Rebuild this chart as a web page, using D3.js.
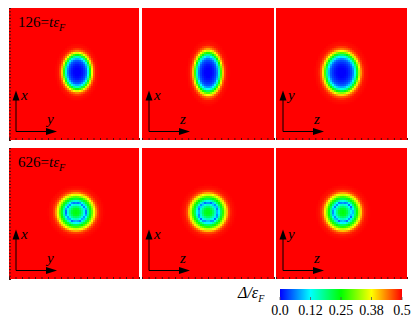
<!DOCTYPE html>
<html lang="en">
<head>
<meta charset="UTF-8">
<title>Gap snapshots</title>
<script src="https://cdn.jsdelivr.net/npm/d3@7"></script>
<style>
    body { margin: 0; background: white; }
    text { font-family: "Liberation Serif", "DejaVu Serif", serif; }
</style>
</head>
<body>
<div id="container"></div>
<script>
    // radial profiles of the gap, r = 1 at the outer yellow edge of the blob
    const radiusEarly = [0, 0.2, 0.35, 0.5, 0.6, 0.7, 0.8, 0.9, 1.0, 1.1, 1.25, 1.5, 3];
    const deltaEarly  = [0.0, 0.0, 0.01, 0.03, 0.05, 0.10, 0.18, 0.28, 0.38, 0.45, 0.49, 0.5, 0.5];
    const radiusLate  = [0, 0.2, 0.35, 0.45, 0.52, 0.58, 0.68, 0.8, 0.9, 1.0, 1.1, 1.25, 1.5, 3];
    const deltaLate   = [0.25, 0.23, 0.17, 0.12, 0.05, 0.12, 0.2, 0.27, 0.34, 0.40, 0.46, 0.49, 0.5, 0.5];

    // blob centre and half axes per panel (panel units -1..1)
    const planeLabels = [["y", "x"], ["z", "x"], ["z", "y"]];
    const timeLabels  = ["126", "626"];
    const centerX = [[0.05, 0.0, 0.0], [0.03, 0.0, 0.02]];
    const centerY = [[0.03, 0.02, 0.02], [0.02, 0.02, 0.02]];
    const radiusX = [[0.23, 0.22, 0.28], [0.295, 0.285, 0.28]];
    const radiusY = [[0.295, 0.34, 0.33], [0.28, 0.285, 0.285]];

    const cbTicks  = [0, 0.125, 0.25, 0.375, 0.5];
    const cbLabels = ["0.0", "0.12", "0.25", "0.38", "0.5"];

    const W = 415, H = 321;
    const colX = [[9, 139], [142, 274], [276, 407]];
    const rowY = [[8, 140], [148, 279]];
    const cell = 2;

    const color = d3.scaleLinear()
        .domain([0, 0.125, 0.25, 0.375, 0.5])
        .range(["#0000ff", "#00ffff", "#00ff00", "#ffff00", "#ff0000"])
        .clamp(true);

    const profiles = [
        d3.scaleLinear().domain(radiusEarly).range(deltaEarly).clamp(true),
        d3.scaleLinear().domain(radiusLate).range(deltaLate).clamp(true)
    ];

    const svg = d3.select("#container").append("svg")
        .attr("width", W)
        .attr("height", H);

    rowY.forEach((ry, row) => {
        colX.forEach((cx, col) => {
            const w = cx[1] - cx[0], h = ry[1] - ry[0];
            const x = d3.scaleLinear().domain([-1, 1]).range([0, w]);
            const y = d3.scaleLinear().domain([-1, 1]).range([h, 0]);
            const g = svg.append("g").attr("transform", `translate(${cx[0]},${ry[0]})`);

            g.append("rect").attr("width", w).attr("height", h).attr("fill", "#ff0000");

            const nx = Math.ceil(w / cell), ny = Math.ceil(h / cell);
            const cells = [];
            for (let i = 0; i < nx; i++) {
                for (let j = 0; j < ny; j++) {
                    const u = x.invert((i + 0.5) * cell), v = y.invert((j + 0.5) * cell);
                    const s = Math.hypot((u - centerX[row][col]) / radiusX[row][col],
                                         (v - centerY[row][col]) / radiusY[row][col]);
                    const val = profiles[row](s);
                    if (val < 0.499) cells.push({i, j, val});
                }
            }
            g.selectAll("rect.c")
                .data(cells)
                .enter().append("rect")
                .attr("class", "c")
                .attr("x", d => d.i * cell)
                .attr("y", d => d.j * cell)
                .attr("width", cell + 0.3)
                .attr("height", cell + 0.3)
                .attr("fill", d => color(d.val));

            // little ticks along the frame
            const bottom = d3.axisBottom(x).ticks(24).tickSize(-2).tickFormat("");
            g.append("g").attr("transform", `translate(0,${h})`).call(bottom)
                .call(a => a.select(".domain").remove())
                .selectAll("line").attr("stroke", "#401010");
            if (col === 0) {
                const left = d3.axisLeft(y).ticks(30).tickSize(-2).tickFormat("");
                g.append("g").call(left)
                    .call(a => a.select(".domain").remove())
                    .selectAll("line").attr("stroke", "#401010");
            }

            // axis arrows
            const ox = 7, oy = h - 8.5, len = 41;
            g.append("line").attr("x1", ox).attr("y1", oy).attr("x2", ox).attr("y2", oy - len + 8)
                .attr("stroke", "black").attr("stroke-width", 1);
            g.append("line").attr("x1", ox).attr("y1", oy).attr("x2", ox + len - 8).attr("y2", oy)
                .attr("stroke", "black").attr("stroke-width", 1);
            g.append("path")
                .attr("d", `M${ox},${oy - len} L${ox - 3.5},${oy - len + 10} L${ox + 3.5},${oy - len + 10} Z`)
                .attr("fill", "black");
            g.append("path")
                .attr("d", `M${ox + len},${oy} L${ox + len - 11},${oy - 3.5} L${ox + len - 11},${oy + 3.5} Z`)
                .attr("fill", "black");
            g.append("text").attr("x", ox + 5).attr("y", oy - len + 9)
                .attr("font-size", 15).attr("font-style", "italic").text(planeLabels[col][1]);
            g.append("text").attr("x", ox + 31).attr("y", oy - 8)
                .attr("font-size", 15).attr("font-style", "italic").text(planeLabels[col][0]);

            if (col === 0) {
                const t = g.append("text").attr("x", 9).attr("y", 19).attr("font-size", 15);
                t.append("tspan").text(timeLabels[row] + "=");
                t.append("tspan").attr("font-style", "italic").text("tε");
                t.append("tspan").attr("font-style", "italic").attr("font-size", 10)
                    .attr("dy", 4).text("F");
            }
        });
    });

    // colour bar
    const cb = d3.scaleLinear().domain([0, 0.5]).range([280, 402]);
    const grad = svg.append("defs").append("linearGradient").attr("id", "cbg");
    color.domain().forEach((d, i) => {
        grad.append("stop").attr("offset", d / 0.5).attr("stop-color", color.range()[i]);
    });
    svg.append("rect").attr("x", cb(0)).attr("y", 289).attr("width", cb(0.5) - cb(0)).attr("height", 11)
        .attr("fill", "url(#cbg)");
    svg.append("g").selectAll("line").data(cbTicks).enter().append("line")
        .attr("x1", d => cb(d)).attr("x2", d => cb(d)).attr("y1", 300).attr("y2", 297)
        .attr("stroke", "#555").attr("stroke-width", 0.8);
    svg.append("g").selectAll("text").data(cbTicks).enter().append("text")
        .attr("x", d => cb(d)).attr("y", 315).attr("text-anchor", "middle")
        .attr("font-family", "Liberation Serif").attr("font-size", 14)
        .text((d, i) => cbLabels[i]);
    const lab = svg.append("text").attr("x", 238).attr("y", 298).attr("font-size", 16);
    lab.append("tspan").attr("font-style", "italic").text("Δ/ε");
    lab.append("tspan").attr("font-style", "italic").attr("font-size", 10).attr("dy", 4).text("F");
</script>
</body>
</html>
